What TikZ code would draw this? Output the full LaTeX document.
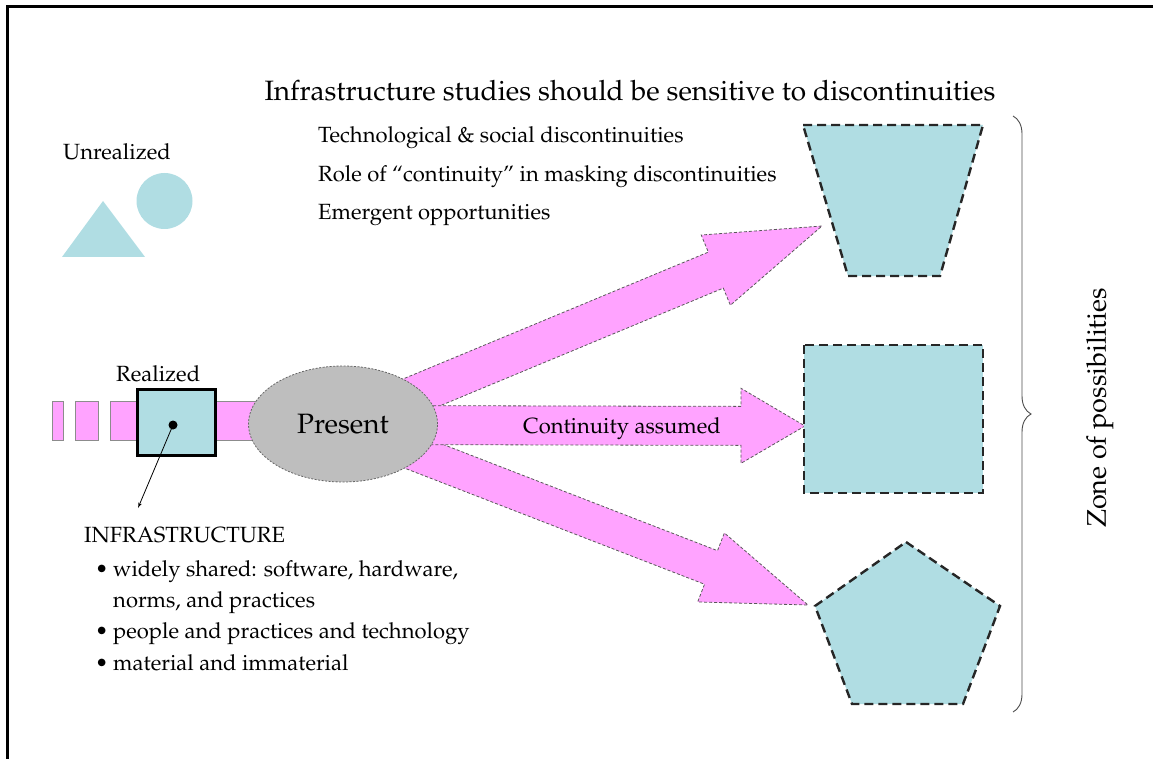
\documentclass[tikz,border=0pt]{standalone}
\usepackage[T1]{fontenc}
\usepackage{mathpazo}
\usetikzlibrary{arrows, calc, shapes.geometric, decorations.pathreplacing}

\definecolor{paleblue}{RGB}{176,221,227}
\definecolor{pinkfill}{RGB}{255,163,255}
\definecolor{presentgray}{RGB}{190,190,190}

% tail, tip, head-base name, half shaft, half head, head length
\newcommand{\fatarrow}[6]{%
  \coordinate (#3) at ($(#2)!#6!(#1)$);
  \draw[blockarrow] ($(#1)!#4!90:(#2)$) -- ($(#3)!#4!90:(#2)$) -- ($(#3)!#5!90:(#2)$) -- (#2)
    -- ($(#3)!#5!-90:(#2)$) -- ($(#3)!#4!-90:(#2)$) -- ($(#1)!#4!-90:(#2)$) -- cycle;
}

\begin{document}
\begin{tikzpicture}[x=1pt, y=-1pt, >=latex']
  \tikzstyle{lbl} = [inner sep=0pt, anchor=base west, font=\fontsize{22}{26}\selectfont]
  \tikzstyle{big} = [inner sep=0pt, font=\fontsize{28}{32}\selectfont]
  \tikzstyle{blockarrow} = [fill=pinkfill, draw=black!65, line width=0.8pt, dash pattern=on 3pt off 2pt]
  \tikzstyle{zone} = [fill=paleblue, draw=black!85, line width=2.4pt, dash pattern=on 9pt off 5pt]
  \tikzstyle{bar} = [fill=pinkfill, draw=black!45, line width=0.8pt]
  \useasboundingbox (0,0) rectangle (1153,759);
  \draw[line width=3pt] (7,759) -- (7,7) -- (1153,7);

  \node[big, anchor=base] (title) at (630,101) {Infrastructure studies should be sensitive to discontinuities};
  \node[lbl] (techsoc) at (318,143) {Technological \& social discontinuities};
  \node[lbl] (masking) at (318,181.5) {Role of ``continuity'' in masking discontinuities};
  \node[lbl] (emergent) at (318,220) {Emergent opportunities};

  % unrealized
  \node[lbl] (unrealized) at (63,160) {Unrealized};
  \fill[paleblue] (164.5,201) circle (28pt);
  \fill[paleblue] (103,201) -- (145,257) -- (62,257) -- cycle;

  % realized
  \draw[bar] (52.5,401.5) rectangle (63.5,440.5);
  \draw[bar] (75,401.5) rectangle (98.5,440.5);
  \draw[bar] (110,401.5) rectangle (265,440.5);
  \node[lbl] (realized) at (116,381.5) {Realized};
  \draw[line width=3pt, fill=paleblue] (137,389) rectangle (215,455);
  \coordinate (dot) at (173,425);
  \fill (dot) circle (4.5pt);

  \node[lbl] (infra) at (84,542) {INFRASTRUCTURE};
  \node[lbl] (b1) at (95,576) {\textbullet};
  \node[lbl] (shared) at (113,576) {widely shared: software, hardware,};
  \node[lbl] (norms) at (113,607) {norms, and practices};
  \node[lbl] (b2) at (95,638) {\textbullet};
  \node[lbl] (people) at (113,638) {people and practices and technology};
  \node[lbl] (b3) at (95,670) {\textbullet};
  \node[lbl] (material) at (113,670) {material and immaterial};
  \draw[->, line width=0.8pt] (dot) -- (138,508);

  % futures
  \coordinate (hub) at (343,425);
  \coordinate (uptip) at (822,226);
  \coordinate (midtip) at (805,426);
  \coordinate (lowtip) at (808,605);
  \fatarrow{hub}{uptip}{uphead}{19.5pt}{38pt}{115pt}
  \fatarrow{hub}{lowtip}{lowhead}{18pt}{37pt}{104pt}
  \fatarrow{hub}{midtip}{midhead}{19.5pt}{37.5pt}{64pt}
  \node[lbl, anchor=base] (assumed) at (622,433) {Continuity assumed};

  \node[ellipse, draw=black!60, fill=presentgray, line width=0.8pt, dash pattern=on 2pt off 1.5pt,
        minimum width=189pt, minimum height=116pt, big] (present) at (343,424) {Present};

  \draw[zone] (803,125) -- (983,125) -- (940,276) -- (848,276) -- cycle;
  \draw[zone] (804,345) rectangle (983,493);
  \draw[zone] (906,542) -- (1000,606) -- (963,704) -- (852,704) -- (815,606) -- cycle;

  \draw[decorate, decoration={brace, amplitude=18pt}, draw=black!70, line width=0.9pt] (1013,116) -- (1013,712);
  \node[big, rotate=90, font=\fontsize{27}{30}\selectfont] (zone) at (1100,408) {Zone of possibilities};
\end{tikzpicture}
\end{document}
